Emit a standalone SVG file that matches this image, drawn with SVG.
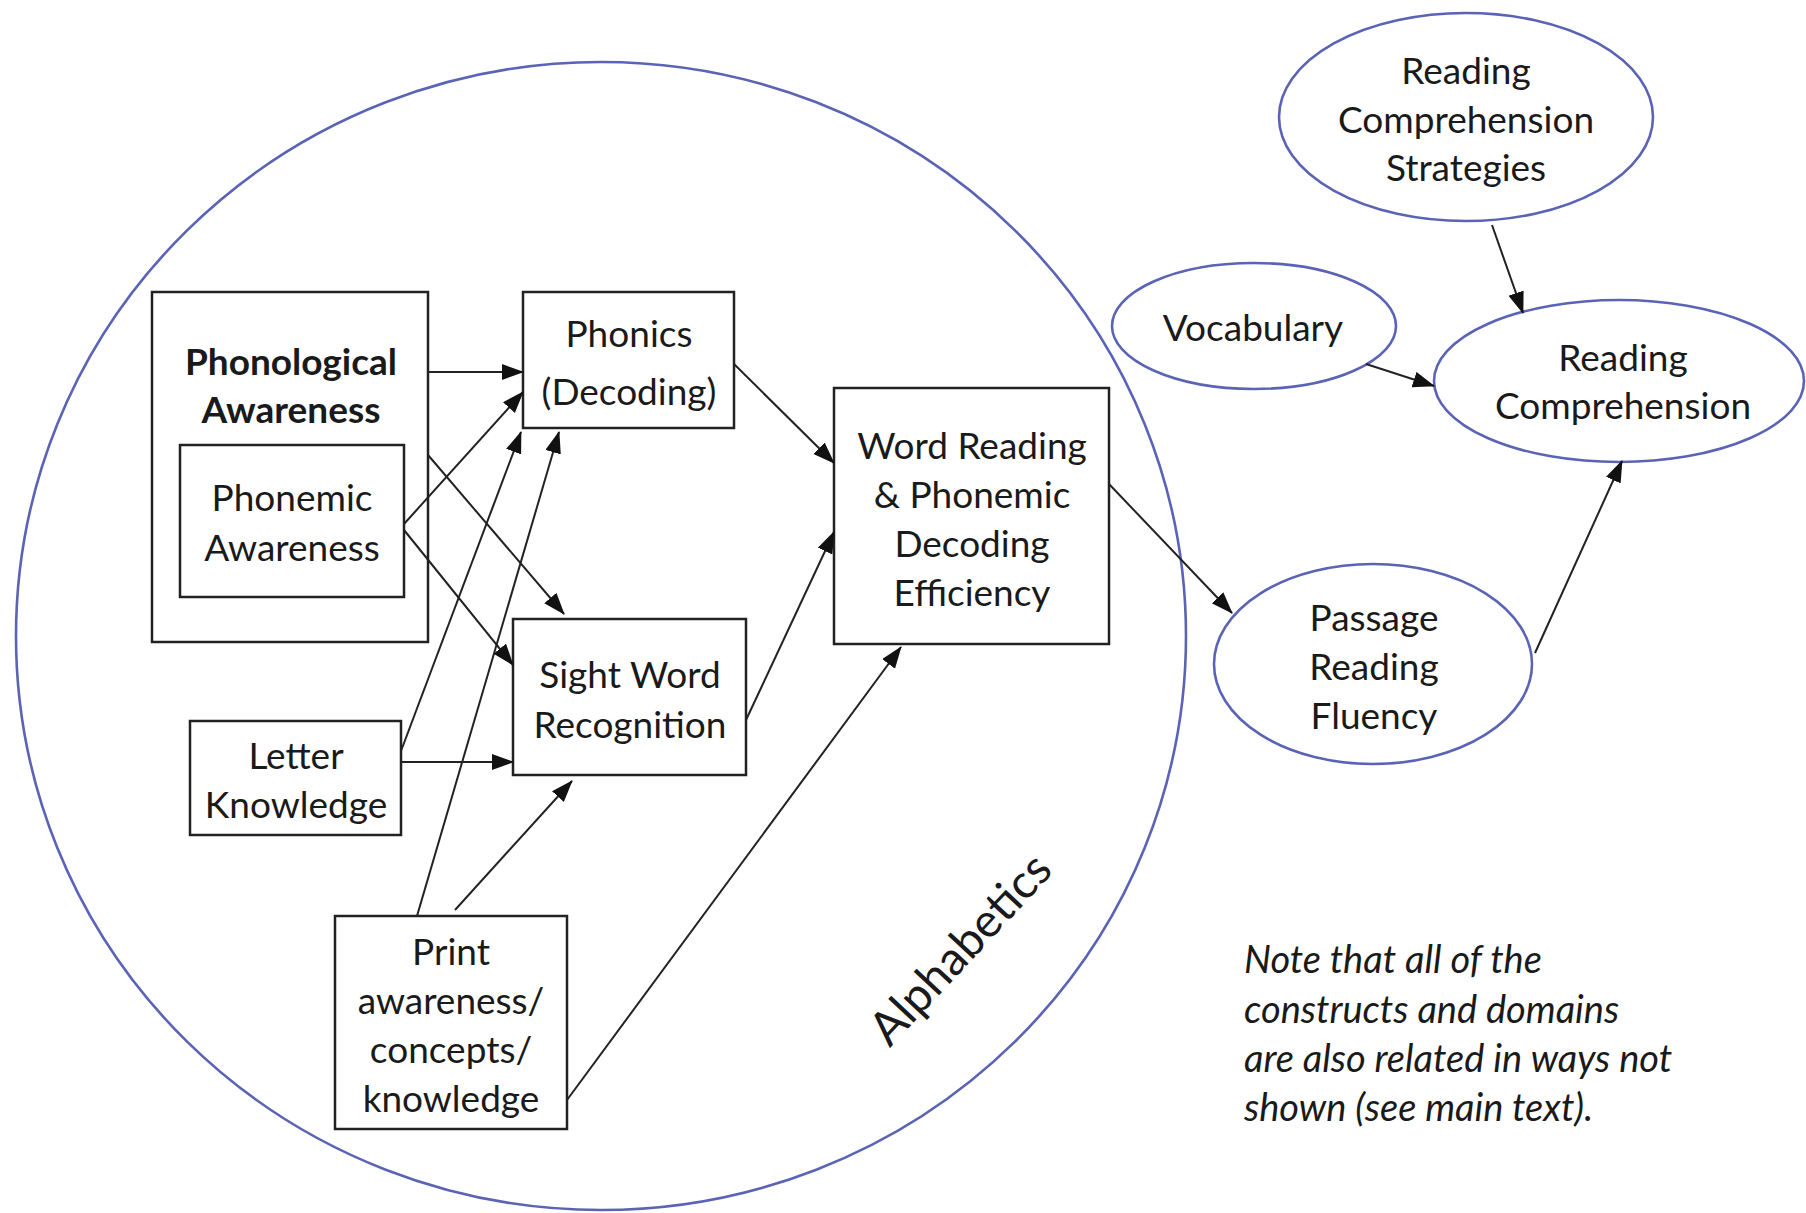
<svg xmlns="http://www.w3.org/2000/svg" width="1806" height="1213" viewBox="0 0 1806 1213">
<style>
.box{fill:none;stroke:#222;stroke-width:2.5}
.ell{fill:none;stroke:#5a63b5;stroke-width:2.6}
.t{font-family:Lato,"Open Sans",sans-serif;font-size:37px;fill:#1a1a1a;text-anchor:middle}
.b{font-weight:bold}
.alpha{font-family:Lato,"Open Sans",sans-serif;font-size:47px;fill:#1a1a1a;text-anchor:middle}
.note{font-family:Lato,"Open Sans",sans-serif;font-size:38px;font-style:italic;fill:#1a1a1a}
.c{fill:none;stroke:#222;stroke-width:2}
</style>
<defs>
<marker id="ah" markerUnits="userSpaceOnUse" markerWidth="24" markerHeight="18" refX="21" refY="8" orient="auto">
<path d="M0,0 L22,8 L0,16 Z" fill="#111"/>
</marker>
</defs>
<rect width="1806" height="1213" fill="#fff"/>
<g id="alphabetics">
<ellipse class="ell" cx="601" cy="636" rx="585" ry="574"/>
<text class="alpha" transform="translate(972,960) rotate(-47)">Alphabetics</text>
</g>
<g id="phonological">
<rect class="box" x="152" y="292" width="276" height="350"/>
<text class="t b" x="291" y="375">Phonological</text>
<text class="t b" x="291" y="423">Awareness</text>
</g>
<g id="phonemic">
<rect class="box" x="180" y="445" width="224" height="152"/>
<text class="t" x="292" y="511">Phonemic</text>
<text class="t" x="292" y="561">Awareness</text>
</g>
<g id="phonics">
<rect class="box" x="523" y="292" width="211" height="136"/>
<text class="t" x="629" y="347">Phonics</text>
<text class="t" x="629" y="405">(Decoding)</text>
</g>
<g id="sightword">
<rect class="box" x="513" y="619" width="233" height="156"/>
<text class="t" x="630" y="688">Sight Word</text>
<text class="t" x="630" y="738">Recognition</text>
</g>
<g id="letter">
<rect class="box" x="190" y="721" width="211" height="114"/>
<text class="t" x="296" y="769">Letter</text>
<text class="t" x="296" y="818">Knowledge</text>
</g>
<g id="print">
<rect class="box" x="335" y="916" width="232" height="213"/>
<text class="t" x="451" y="965">Print</text>
<text class="t" x="451" y="1014">awareness/</text>
<text class="t" x="451" y="1063">concepts/</text>
<text class="t" x="451" y="1112">knowledge</text>
</g>
<g id="wordreading">
<rect class="box" x="834" y="388" width="275" height="256"/>
<text class="t" x="972" y="459">Word Reading</text>
<text class="t" x="972" y="508">&amp; Phonemic</text>
<text class="t" x="972" y="557">Decoding</text>
<text class="t" x="972" y="606">Efficiency</text>
</g>
<g id="strategies">
<ellipse class="ell" cx="1466" cy="117" rx="187" ry="104"/>
<text class="t" x="1466" y="84">Reading</text>
<text class="t" x="1466" y="133">Comprehension</text>
<text class="t" x="1466" y="181">Strategies</text>
</g>
<g id="vocabulary">
<ellipse class="ell" cx="1254" cy="326" rx="142" ry="63"/>
<text class="t" x="1253" y="341">Vocabulary</text>
</g>
<g id="readingcomp">
<ellipse class="ell" cx="1619" cy="381" rx="185" ry="81"/>
<text class="t" x="1623" y="371">Reading</text>
<text class="t" x="1623" y="419">Comprehension</text>
</g>
<g id="fluency">
<ellipse class="ell" cx="1373" cy="664" rx="159" ry="100"/>
<text class="t" x="1374" y="631">Passage</text>
<text class="t" x="1374" y="680">Reading</text>
<text class="t" x="1374" y="729">Fluency</text>
</g>
<g id="note">
<text class="note" x="1244" y="973">Note that all of the</text>
<text class="note" x="1244" y="1023">constructs and domains</text>
<text class="note" x="1244" y="1072">are also related in ways not</text>
<text class="note" x="1244" y="1121">shown (see main text).</text>
</g>
<g id="connectors">
<line class="c" x1="428" y1="372" x2="523" y2="372" marker-end="url(#ah)"/>
<line class="c" x1="404" y1="524" x2="523" y2="392" marker-end="url(#ah)"/>
<line class="c" x1="428" y1="455" x2="564" y2="614" marker-end="url(#ah)"/>
<line class="c" x1="404" y1="530" x2="513" y2="665" marker-end="url(#ah)"/>
<line class="c" x1="401" y1="751" x2="521" y2="432" marker-end="url(#ah)"/>
<line class="c" x1="401" y1="762" x2="513" y2="762" marker-end="url(#ah)"/>
<line class="c" x1="417" y1="916" x2="559" y2="432" marker-end="url(#ah)"/>
<line class="c" x1="455" y1="910" x2="572" y2="781" marker-end="url(#ah)"/>
<line class="c" x1="567" y1="1100" x2="901" y2="647" marker-end="url(#ah)"/>
<line class="c" x1="734" y1="364" x2="834" y2="463" marker-end="url(#ah)"/>
<line class="c" x1="746" y1="720" x2="834" y2="532" marker-end="url(#ah)"/>
<line class="c" x1="1109" y1="484" x2="1232" y2="613" marker-end="url(#ah)"/>
<line class="c" x1="1535" y1="653" x2="1622" y2="461" marker-end="url(#ah)"/>
<line class="c" x1="1492" y1="225" x2="1523" y2="313" marker-end="url(#ah)"/>
<line class="c" x1="1366" y1="364" x2="1434" y2="386" marker-end="url(#ah)"/>
</g>
</svg>
